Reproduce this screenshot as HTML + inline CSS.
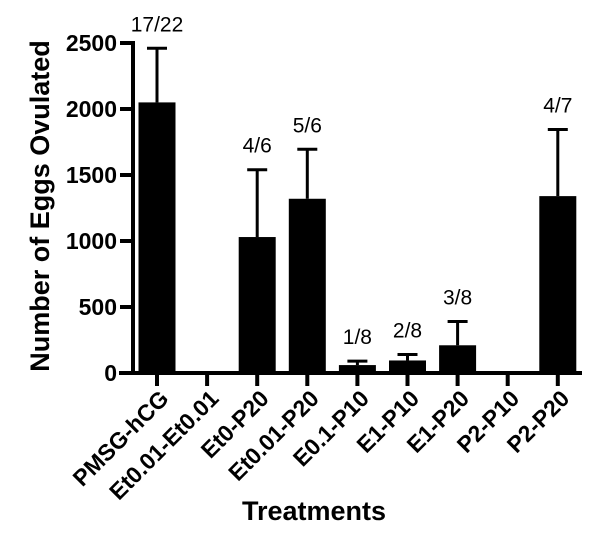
<!DOCTYPE html>
<html><head><meta charset="utf-8"><style>
body{margin:0;background:#fff}
svg text{font-family:"Liberation Sans",Arial,sans-serif}
</style></head><body>
<svg id="chart" width="600" height="555">
<g id="g"></g>
</svg>
<script>
const categories=["PMSG-hCG","Et0.01-Et0.01","Et0-P20","Et0.01-P20","E0.1-P10","E1-P10","E1-P20","P2-P10","P2-P20"];
const means=[2050,0,1030,1320,60,95,210,0,1340];
const errors=[410,0,510,375,30,45,180,0,505];
const counts=["17/22","","4/6","5/6","1/8","2/8","3/8","","4/7"];
const yTicks=[0,500,1000,1500,2000,2500];
const NS="http://www.w3.org/2000/svg";
const g=document.getElementById("g");
const y0=373,ppu=330/2500;
const y=v=>y0-v*ppu;
const x=i=>157+i*50.1;
function el(t,a,txt){const e=document.createElementNS(NS,t);for(const k in a)e.setAttribute(k,a[k]);if(txt!==undefined)e.textContent=txt;g.appendChild(e);return e;}
categories.forEach((c,i)=>{
  if(means[i]>0){
    const b=el("rect",{x:x(i)-18.5,y:y(means[i]),width:37,height:y0-y(means[i]),fill:"#000"});
    
    
    const top=y(means[i]+errors[i]);
    const e1=el("line",{x1:x(i),x2:x(i),y1:y(means[i]),y2:top,stroke:"#000","stroke-width":3});
    
    
    el("line",{x1:x(i)-10,x2:x(i)+10,y1:top,y2:top,stroke:"#000","stroke-width":3});
  }
  if(counts[i]){
    const t=el("text",{x:x(i),y:y(means[i]+errors[i])-17,"text-anchor":"middle","font-size":21},counts[i]);
    
    
  }
  el("line",{x1:x(i),x2:x(i),y1:y0,y2:386,stroke:"#000","stroke-width":4});
  const l=el("text",{transform:`translate(${x(i)+13},${400}) rotate(-45)`,"text-anchor":"end","font-size":23,"font-weight":"bold"},c);
  
  
});
const ya=el("line",{x1:133,x2:133,y1:41,y2:375,stroke:"#000","stroke-width":4});


const xa=el("line",{x1:119,x2:582,y1:y0,y2:y0,stroke:"#000","stroke-width":4});


yTicks.forEach(v=>{
  el("line",{x1:120,x2:133,y1:y(v),y2:y(v),stroke:"#000","stroke-width":4});
  const t=el("text",{x:117,y:y(v)+8,"text-anchor":"end","font-size":23,"font-weight":"bold"},v);
  
  
});
const yt=el("text",{transform:"translate(49,206) rotate(-90)","text-anchor":"middle","font-size":27,"font-weight":"bold"},"Number of Eggs Ovulated");


const xt=el("text",{x:314,y:520,"text-anchor":"middle","font-size":27,"font-weight":"bold"},"Treatments");


</script>
</body></html>
